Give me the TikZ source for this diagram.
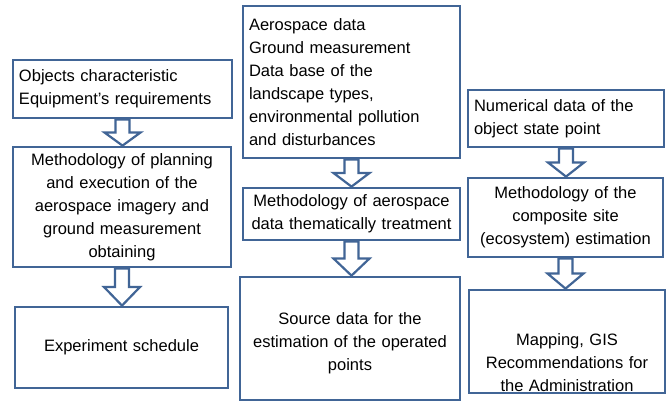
\documentclass[tikz,border=0pt]{standalone}
\usepackage{fontspec}
\setmainfont{Liberation Sans}
\usetikzlibrary{calc}
\definecolor{frame}{RGB}{65,101,150}
\tikzset{box/.style={draw=frame, line width=2.8pt, fill=white, inner sep=6pt, font=\fontsize{16.5}{23}\selectfont},
leftbox/.style={box, align=left},
midbox/.style={box, align=center},
flow/.style={draw=frame, line width=2.2pt, fill=white, line join=miter}}
% hollow block arrow from the bottom of one box to the top of the next
\newcommand{\flowarrow}[2]{%
  \draw[flow] let \p1=(#1.south), \p2=(#2.north), \p3=($(\p1)!.5!(\p2)$) in
    (\x1-7pt,\y1) -- (\x1+7pt,\y1) -- (\x1+7pt,\y3) -- (\x1+18pt,\y3)
    -- (\x1,\y2) -- (\x1-18pt,\y3) -- (\x1-7pt,\y3) -- cycle;}

\begin{document}
\begin{tikzpicture}[x=1pt,y=-1pt]

\fill[white] (0,0) rectangle (670,405);

\node[leftbox, text width=207pt, minimum height=58pt] (objects) at (122.5,89) {Objects characteristic\\Equipment's requirements};
\node[midbox, text width=206pt, minimum height=120pt] (planning) at (122,207) {Methodology of planning\\and execution of the\\aerospace imagery and\\ground measurement\\obtaining};
\node[midbox, text width=201pt, minimum height=81pt] (schedule) at (121.5,347.5) {Experiment schedule};

\node[leftbox, text width=205pt, minimum height=152pt] (aerodata) at (351.5,82) {Aerospace data\\Ground measurement\\Data base of the\\landscape types,\\environmental pollution\\and disturbances};
\node[midbox, text width=205pt, minimum height=52pt] (treatment) at (351.5,214) {Methodology of aerospace\\data thematically treatment};
\node[midbox, text width=208pt, minimum height=123pt, text height=12pt, text depth=41pt] (source) at (350,338.5) {Source data for the\\estimation of the operated\\points};

\node[leftbox, text width=184pt, minimum height=57pt] (numerical) at (566,118.5) {Numerical data of the\\object state point};
\node[midbox, text width=183pt, minimum height=79pt] (composite) at (565.5,217.5) {Methodology of the\\composite site\\(ecosystem) estimation};
\node[midbox, text width=184pt, minimum height=103pt, text height=30pt, text depth=23pt] (mapping) at (567,341.5) {Mapping, GIS\\Recommendations for\\the Administration};

\foreach \a/\b in {objects/planning, planning/schedule, aerodata/treatment, treatment/source, numerical/composite, composite/mapping}
    \flowarrow{\a}{\b};

\end{tikzpicture}
\end{document}
